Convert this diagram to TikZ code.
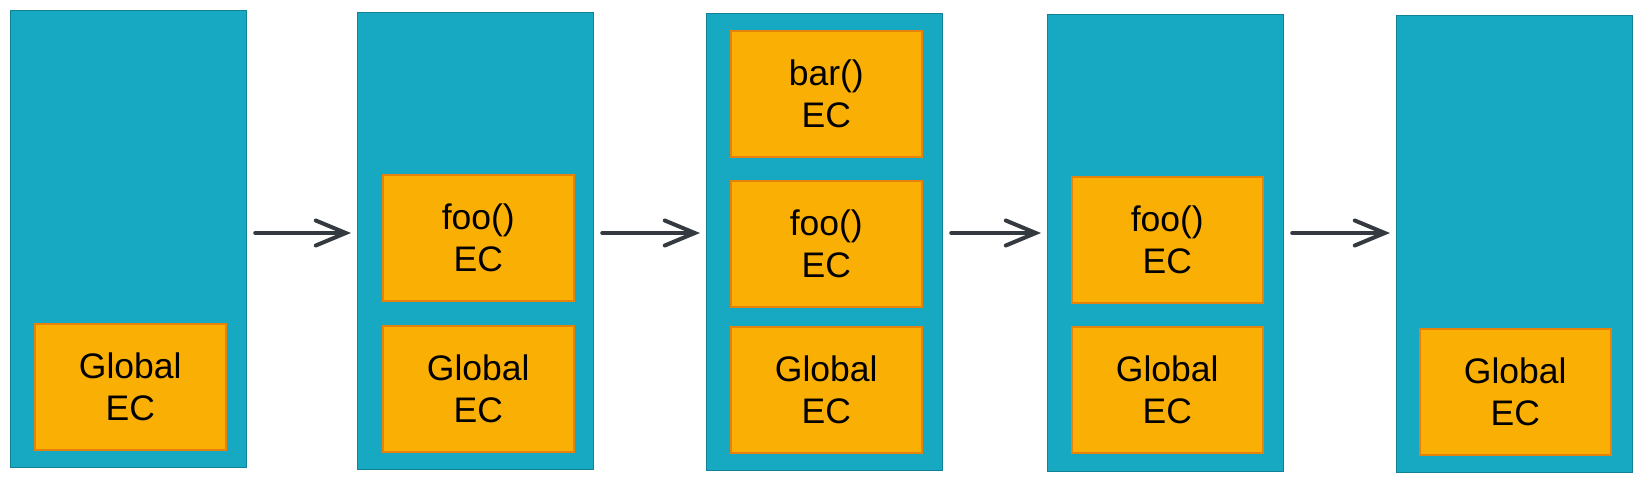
\documentclass[tikz,border=0pt]{standalone}
\usepackage{fontspec}
\setmainfont{Liberation Sans}
\usetikzlibrary{arrows.meta}
\definecolor{stackteal}{RGB}{23,169,193}
\definecolor{stackedge}{RGB}{18,130,150}
\definecolor{ecorange}{RGB}{250,175,5}
\definecolor{ecedge}{RGB}{228,130,10}
\definecolor{arrowgray}{RGB}{52,58,64}
\begin{document}
\begin{tikzpicture}[x=1pt,y=-1pt,%
        stack/.style={shape=rectangle,anchor=north west,fill=stackteal,draw=stackedge,
            line width=1.2pt,minimum width=236pt,minimum height=457pt,inner sep=0pt},
        ecbox/.style={shape=rectangle,anchor=north west,fill=ecorange,draw=ecedge,
            line width=1.5pt,minimum width=191pt,minimum height=126pt,inner sep=0pt,
            align=center,font=\fontsize{35.5}{41.5}\selectfont},
        push/.style={draw=arrowgray,line width=4pt,line cap=round,
            -{Straight Barb[length=30pt,width=25pt,line cap=round]},
            shorten <=8pt,shorten >=6pt}
    ]
    \useasboundingbox (0,0) rectangle (1642,482);
    % the five states of the call stack
    \node [stack] (s1) at (10,10) {};
    \node [stack] (s2) at (357,12) {};
    \node [stack] (s3) at (706,13) {};
    \node [stack] (s4) at (1047,14) {};
    \node [stack] (s5) at (1396,15) {};
    % execution contexts
    \node [ecbox] (g1) at (34,323) {Global\\EC};
    \node [ecbox] (f2) at (382,174) {foo()\\EC};
    \node [ecbox] (g2) at (382,325) {Global\\EC};
    \node [ecbox] (b3) at (730,30) {bar()\\EC};
    \node [ecbox] (f3) at (730,180) {foo()\\EC};
    \node [ecbox] (g3) at (730,326) {Global\\EC};
    \node [ecbox] (f4) at (1071,176) {foo()\\EC};
    \node [ecbox] (g4) at (1071,326) {Global\\EC};
    \node [ecbox] (g5) at (1419,328) {Global\\EC};
    % transitions
    \coordinate (mid) at (0,233);
    \foreach \a/\b in {s1/s2,s2/s3,s3/s4,s4/s5}
        \draw [push] (\a.east |- mid) -- (\b.west |- mid);
\end{tikzpicture}
\end{document}
